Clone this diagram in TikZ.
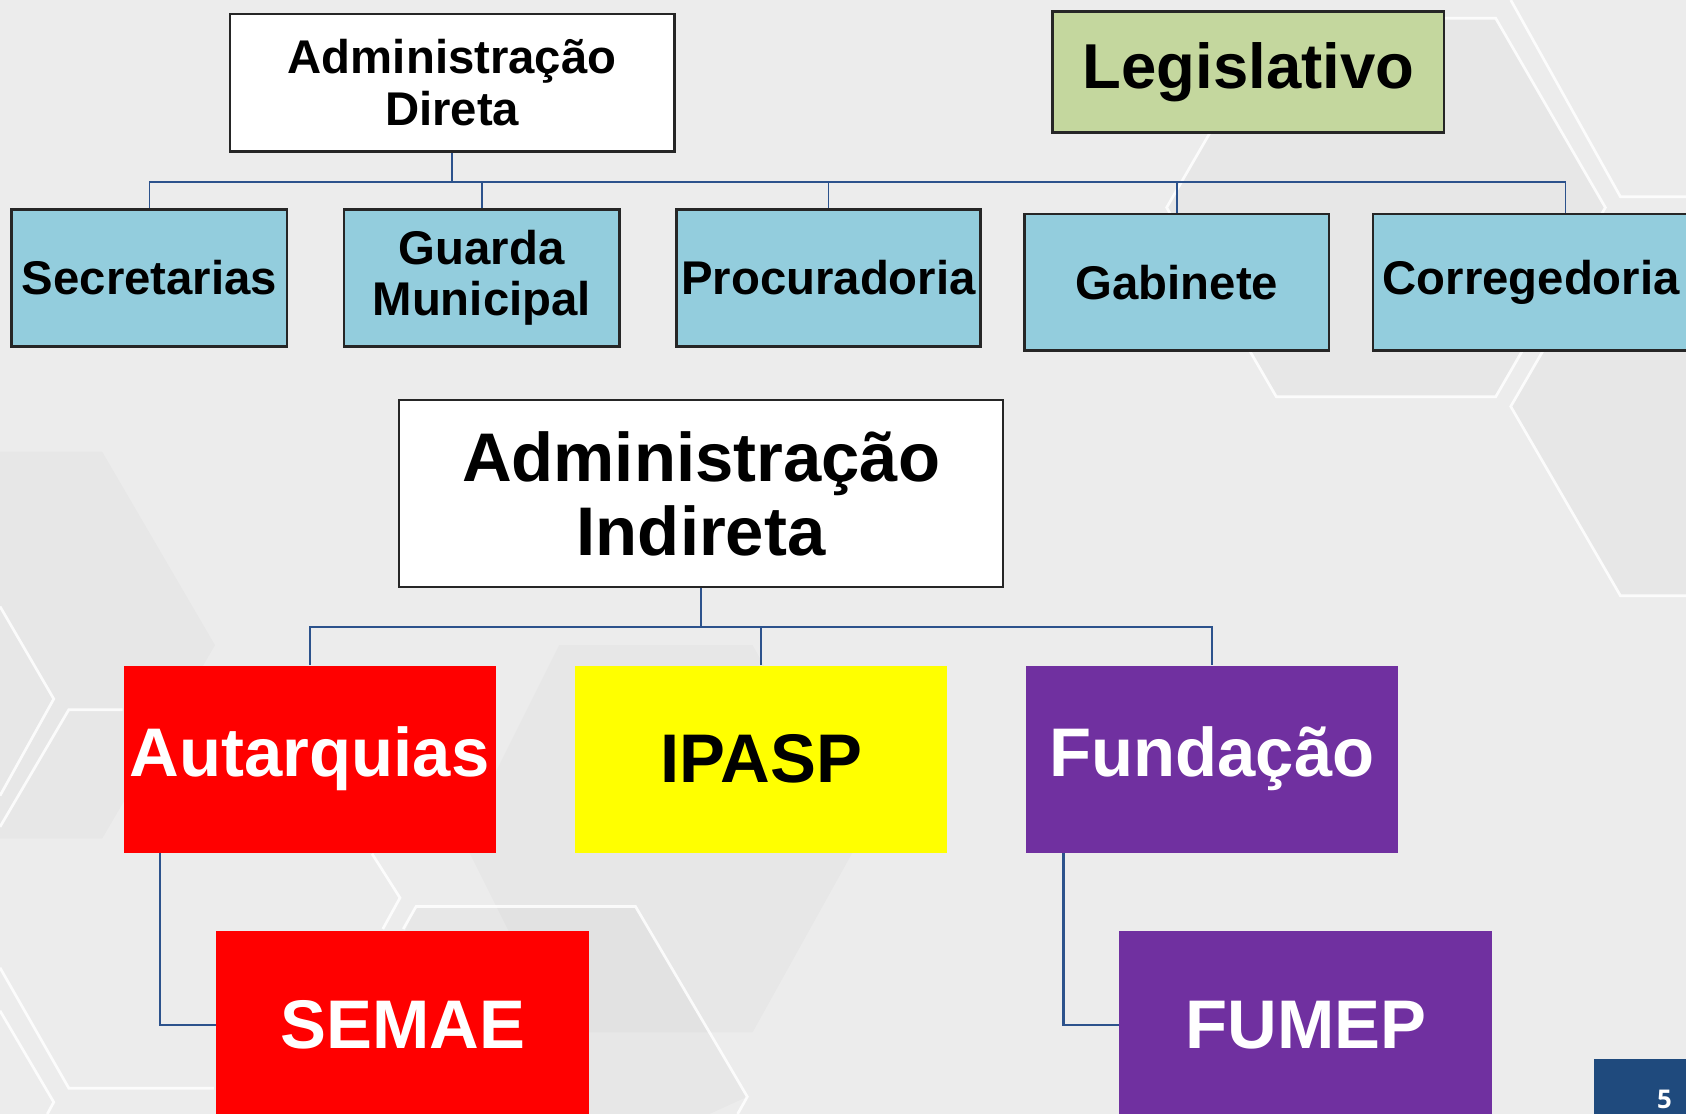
\documentclass[tikz,border=0pt]{standalone}
\usepackage{fontspec}
\setmainfont{Liberation Sans}
\newfontfamily\pgfont{Open Sans}
\definecolor{bgc}{RGB}{236,236,236}
\definecolor{boxblue}{RGB}{147,205,221}
\definecolor{legisgreen}{RGB}{196,215,158}
\definecolor{connblue}{RGB}{44,82,140}
\definecolor{purp}{RGB}{112,48,160}
\definecolor{pgblue}{RGB}{31,74,125}
\definecolor{pred}{RGB}{255,0,0}
\definecolor{pyellow}{RGB}{255,255,0}
\begin{document}
\begin{tikzpicture}[x=1pt,y=-1pt,
  hexline/.style={draw=white,line width=2.5pt,opacity=0.85},
  shade/.style={fill=black,opacity=0.018},
  conn/.style={draw=connblue,line width=1.6pt},
  connb/.style={draw=connblue,line width=2pt},
  topbox/.style={rectangle,draw=black!85,line width=2.5pt,inner sep=0pt,align=center,
    font=\fontsize{44}{48}\selectfont\bfseries},
  bluebox/.style={topbox,fill=boxblue,minimum height=127pt},
  colbox/.style={rectangle,inner sep=0pt,minimum width=346pt,minimum height=174pt,
    align=center,font=\fontsize{64}{69}\selectfont\bfseries},
  pgbox/.style={rectangle,fill=pgblue,inner sep=0pt,minimum width=90pt,minimum height=60pt}
]
\useasboundingbox (0,0) rectangle (1568,1036);
\clip (0,0) rectangle (1568,1036);
% background
\fill[bgc] (0,0) rectangle (1568,1036);
\fill[shade] (1187,17) -- (1391,17) -- (1493,193) -- (1391,369) -- (1187,369) -- (1085,193) -- cycle;
\fill[shade] (0,420) -- (95,420) -- (200,600) -- (95,780) -- (0,780) -- cycle;
\fill[shade] (387,843) -- (591,843) -- (695,1020) -- (660,1036) -- (300,1036) -- cycle;
\fill[shade] (1405,378) -- (1507,554) -- (1568,554) -- (1568,202) -- (1507,202) -- cycle;
\fill[shade] (520,600) -- (700,600) -- (800,780) -- (700,960) -- (520,960) -- (430,780) -- cycle;
% hexagon outlines
\draw[hexline] (1405,0) -- (1507,183) -- (1568,183);
\draw[hexline] (1187,17) -- (1391,17) -- (1493,193) -- (1391,369) -- (1187,369) -- (1085,193) -- cycle;
\draw[hexline] (1568,202) -- (1507,202) -- (1405,378) -- (1507,554) -- (1568,554);
\draw[hexline] (0,564) -- (50,650) -- (0,740);
\draw[hexline] (114,660) -- (64,660) -- (0,769);
\draw[hexline] (346,794) -- (372,835) -- (356,864);
\draw[hexline] (375,864) -- (387,843) -- (591,843) -- (695,1020) -- (686,1036);
\draw[hexline] (0,900) -- (64,1012) -- (199,1012);
\draw[hexline] (0,940) -- (50,1025) -- (44,1036);
% nodes
\node[topbox,fill=white,minimum width=413pt,minimum height=128pt] (direta) at (420.5,77) {Administração\\Direta};
\node[topbox,fill=legisgreen,minimum width=364pt,minimum height=112pt,font=\fontsize{59}{64}\selectfont\bfseries] (legis) at (1161,67) {Legislativo};
\node[bluebox,minimum width=256pt] (sec) at (139,258.5) {Secretarias};
\node[bluebox,minimum width=256pt] (guarda) at (448,258.5) {Guarda\\Municipal};
\node[bluebox,minimum width=283pt] (proc) at (770.5,258.5) {Procuradoria};
\node[bluebox,minimum width=283pt] (gab) at (1094.5,262.5) {Gabinete};
\node[bluebox,minimum width=294pt] (corr) at (1424,262.5) {Corregedoria};
\node[topbox,fill=white,line width=2pt,minimum width=562pt,minimum height=174pt,font=\fontsize{64}{69}\selectfont\bfseries] (indireta) at (652,459) {Administração\\Indireta};
\node[colbox,fill=pred,text=white] (autarq) at (288,706) {Autarquias};
\node[colbox,fill=pyellow,text=black] (ipasp) at (708,706) {IPASP};
\node[colbox,fill=purp,text=white] (fund) at (1127,706) {Fundação};
\node[colbox,fill=pred,text=white,minimum width=347pt] (semae) at (374.5,953) {SEMAE};
\node[colbox,fill=purp,text=white,minimum width=347pt] (fumep) at (1214.5,953) {FUMEP};
\node[pgbox] (pg) at (1527,1015) {};
\node[anchor=base,text=white,inner sep=0pt,font=\fontsize{24}{28}\pgfont\bfseries] (pgnum) at (1548,1031) {5};
% connectors
\draw[conn] (direta.south) -- ++(0,27) -| (sec.north);
\draw[conn] (direta.south) -- ++(0,27) -| (guarda.north);
\draw[conn] (direta.south) -- ++(0,27) -| (proc.north);
\draw[conn] (direta.south) -- ++(0,27) -| (gab.north);
\draw[conn] (direta.south) -- ++(0,27) -| ([xshift=32pt]corr.north);
\draw[connb] (indireta.south) -- ++(0,36) -| (autarq.north);
\draw[connb] (indireta.south) -- ++(0,36) -| (ipasp.north);
\draw[connb] (indireta.south) -- ++(0,36) -| (fund.north);
\draw[connb] ([xshift=-139pt]autarq.south) |- (semae.west);
\draw[connb] ([xshift=-138pt]fund.south) |- (fumep.west);
\end{tikzpicture}
\end{document}
